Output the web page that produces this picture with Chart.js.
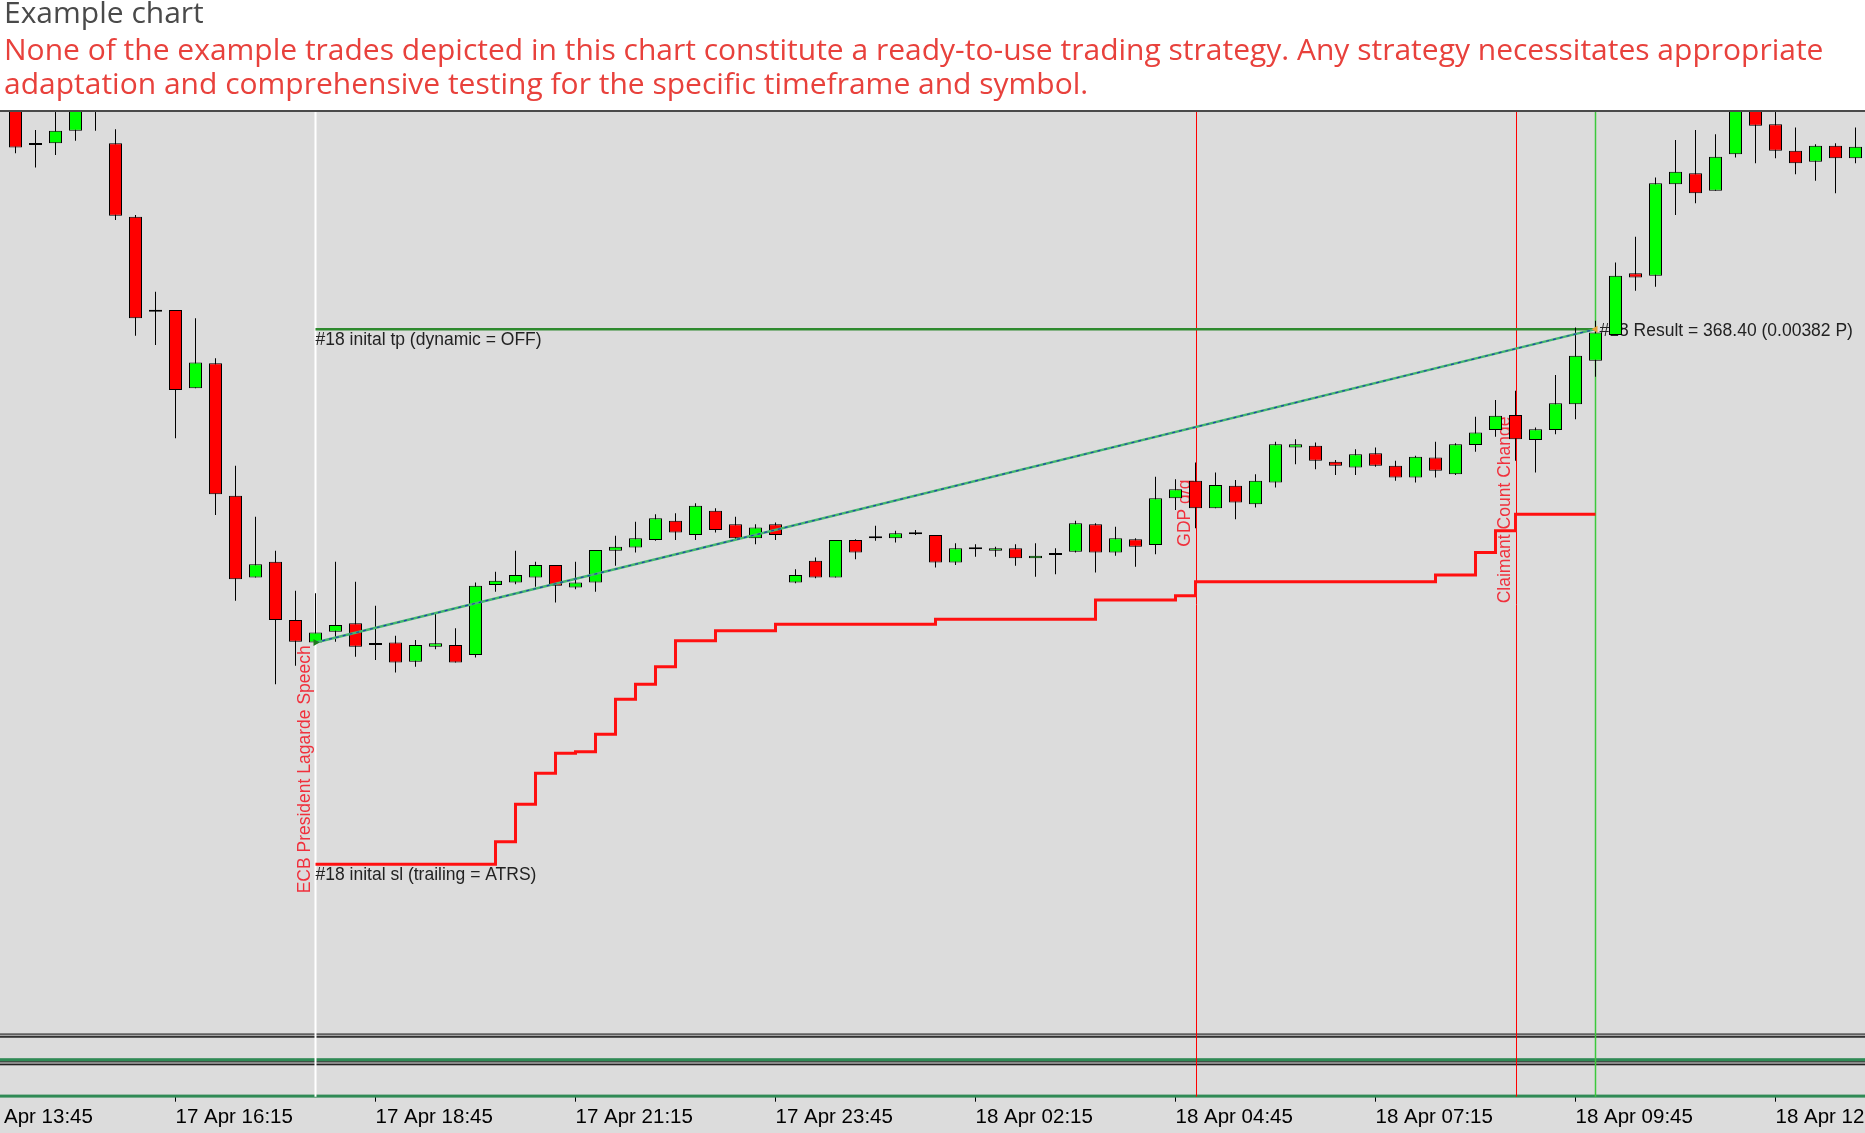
<!DOCTYPE html>
<html><head><meta charset="utf-8">
<script src="https://cdn.jsdelivr.net/npm/chart.js@4.4.1/dist/chart.umd.min.js"></script>
<style>html,body{margin:0;padding:0;background:#fff;}canvas{display:block;}</style>
</head><body>
<canvas id="c" width="1865" height="1133"></canvas>
<script>
// ---------- DATA ----------
const titleText = 'Example chart';
const subtitleLines = [
  'None of the example trades depicted in this chart constitute a ready-to-use trading strategy. Any strategy necessitates appropriate',
  'adaptation and comprehensive testing for the specific timeframe and symbol.'
];
const tickBars = [-2, 8, 18, 28, 38, 48, 58, 68, 78, 88];
const tickLabels = ['17 Apr 13:45','17 Apr 16:15','17 Apr 18:45','17 Apr 21:15','17 Apr 23:45','18 Apr 02:15','18 Apr 04:45','18 Apr 07:15','18 Apr 09:45','18 Apr 12:15'];

const openP = [1.09795,1.09747,1.09749,1.09764,1.09801,1.09749,1.09661,1.09547,1.09549,1.09455,
1.09485,1.09326,1.09228,1.09247,1.09177,1.09150,1.09163,1.09173,1.09147,1.09150,
1.09127,1.09145,1.09147,1.09135,1.09219,1.09222,1.09228,1.09243,1.09216,1.09222,
1.09260,1.09264,1.09273,1.09296,1.09279,1.09308,1.09292,1.09275,1.09292,1.09222,
1.09248,1.09228,1.09273,1.09275,1.09275,1.09280,1.09279,1.09246,1.09262,1.09260,
1.09263,1.09251,1.09255,1.09259,1.09292,1.09258,1.09274,1.09267,1.09323,1.09344,
1.09311,1.09338,1.09316,1.09342,1.09384,1.09386,1.09367,1.09360,1.09377,1.09362,
1.09348,1.09372,1.09352,1.09387,1.09405,1.09423,1.09393,1.09405,1.09436,1.09488,
1.09519,1.09593,1.09590,1.09700,1.09713,1.09692,1.09736,1.09795,1.09772,1.09740,
1.09727,1.09746,1.09731];
const highP = [1.09807,1.09765,1.09791,1.09801,1.09806,1.09766,1.09663,1.09571,1.09549,1.09539,
1.09491,1.09362,1.09301,1.09260,1.09212,1.09209,1.09247,1.09223,1.09194,1.09158,
1.09153,1.09186,1.09167,1.09222,1.09235,1.09260,1.09247,1.09243,1.09247,1.09261,
1.09278,1.09295,1.09304,1.09305,1.09317,1.09311,1.09301,1.09292,1.09294,1.09238,
1.09252,1.09273,1.09274,1.09290,1.09284,1.09285,1.09279,1.09269,1.09268,1.09265,
1.09268,1.09269,1.09263,1.09296,1.09293,1.09289,1.09275,1.09349,1.09346,1.09366,
1.09354,1.09345,1.09352,1.09391,1.09394,1.09390,1.09369,1.09382,1.09384,1.09368,
1.09374,1.09391,1.09389,1.09421,1.09441,1.09452,1.09408,1.09471,1.09528,1.09536,
1.09606,1.09637,1.09708,1.09753,1.09765,1.09760,1.09807,1.09801,1.09791,1.09768,
1.09748,1.09749,1.09768];
const lowP = [1.09737,1.09720,1.09735,1.09752,1.09764,1.09657,1.09518,1.09507,1.09395,1.09455,
1.09303,1.09200,1.09228,1.09100,1.09122,1.09150,1.09151,1.09133,1.09129,1.09114,
1.09121,1.09142,1.09126,1.09132,1.09211,1.09220,1.09217,1.09198,1.09214,1.09211,
1.09242,1.09258,1.09272,1.09273,1.09273,1.09282,1.09274,1.09268,1.09273,1.09221,
1.09227,1.09228,1.09250,1.09272,1.09270,1.09279,1.09240,1.09243,1.09253,1.09253,
1.09242,1.09229,1.09232,1.09258,1.09234,1.09254,1.09241,1.09256,1.09309,1.09287,
1.09311,1.09298,1.09312,1.09336,1.09364,1.09358,1.09351,1.09351,1.09361,1.09344,
1.09342,1.09348,1.09351,1.09379,1.09397,1.09368,1.09354,1.09400,1.09418,1.09469,
1.09519,1.09572,1.09577,1.09663,1.09677,1.09692,1.09732,1.09725,1.09731,1.09712,
1.09704,1.09689,1.09725];
const closeP = [1.09744,1.09747,1.09764,1.09795,1.09794,1.09662,1.09539,1.09547,1.09453,1.09486,
1.09328,1.09226,1.09244,1.09177,1.09151,1.09162,1.09171,1.09145,1.09147,1.09126,
1.09147,1.09149,1.09126,1.09218,1.09224,1.09231,1.09243,1.09218,1.09222,1.09261,
1.09265,1.09275,1.09299,1.09282,1.09314,1.09285,1.09275,1.09288,1.09279,1.09231,
1.09228,1.09273,1.09258,1.09275,1.09281,1.09280,1.09246,1.09263,1.09262,1.09263,
1.09251,1.09254,1.09255,1.09293,1.09258,1.09275,1.09265,1.09323,1.09334,1.09311,
1.09339,1.09318,1.09344,1.09388,1.09388,1.09368,1.09362,1.09376,1.09362,1.09348,
1.09373,1.09356,1.09388,1.09402,1.09422,1.09394,1.09406,1.09437,1.09494,1.09522,
1.09590,1.09588,1.09701,1.09715,1.09689,1.09733,1.09801,1.09770,1.09740,1.09725,
1.09746,1.09731,1.09745];

// trailing stop (per bar, from entry bar 15 to exit bar 79)
const slBars = [15,16,17,18,19,20,21,22,23,24,25,26,27,28,29,30,31,32,33,34,35,36,37,38,39,40,41,42,43,44,45,46,47,
48,49,50,51,52,53,54,55,56,57,58,59,60,61,62,63,64,65,66,67,68,69,70,71,72,73,74,75,76,77,78,79];
const slValues = [1.08884,1.08884,1.08884,1.08884,1.08884,1.08884,1.08884,1.08884,1.08884,
1.08911,1.08956,1.08993,1.09017,1.09019,1.09040,1.09082,1.09100,1.09121,1.09152,1.09152,
1.09164,1.09164,1.09164,1.09172,1.09172,1.09172,1.09172,1.09172,1.09172,1.09172,1.09172,
1.09178,1.09178,1.09178,1.09178,1.09178,1.09178,1.09178,1.09178,
1.09201,1.09201,1.09201,1.09201,1.09206,
1.09223,1.09223,1.09223,1.09223,1.09223,1.09223,1.09223,1.09223,1.09223,1.09223,1.09223,1.09223,
1.09231,1.09231,1.09258,1.09284,1.09304,1.09304,1.09304,1.09304,1.09304];

const entryBar = 15, exitBar = 79;
const entryPrice = 1.09150, exitPrice = 1.09526, tpPrice = 1.09526;
const tpLabel = '#18 inital tp (dynamic = OFF)';
const slLabel = '#18 inital sl (trailing = ATRS)';
const resultLabel = '#18 Result = 368.40 (0.00382 P)';
const events = [
  {bar: 15, text: 'ECB President Lagarde Speech', price: 1.08849},
  {bar: 59, text: 'GDP q/q', price: 1.09265},
  {bar: 75, text: 'Claimant Count Change', price: 1.09197}
];
const sub1Level = 0, sub2Level = 0;

// ---------- CHART ----------
const n = openP.length;
const bodies = [], wicks = [], bodyColors = [];
for (let i = 0; i < n; i++) {
  bodies.push({x: i, y: [openP[i], closeP[i]]});
  wicks.push({x: i, y: [lowP[i], highP[i]]});
  bodyColors.push(closeP[i] > openP[i] ? '#00ff00' : (closeP[i] < openP[i] ? '#ff0000' : '#000000'));
}
const slData = slBars.map((b, k) => ({x: b, y: slValues[k]}));

const decor = {
  id: 'decor',
  beforeDraw(chart) {
    const {ctx, chartArea: a, width, height} = chart;
    ctx.save();
    ctx.fillStyle = '#ffffff'; ctx.fillRect(0, 0, width, height);
    ctx.fillStyle = '#dcdcdc'; ctx.fillRect(0, a.top, width, height - a.top);
    ctx.restore();
  },
  beforeDatasetsDraw(chart) {
    const {ctx, chartArea: a, scales, width} = chart;
    const x = scales.x, y = scales.y, y2 = scales.y2, y3 = scales.y3;
    ctx.save();
    // window separators (double lines)
    const sep = (b) => {
      ctx.fillStyle = '#a4a4a4'; ctx.fillRect(0, b - 0.8, width, 1.3);
      ctx.fillStyle = '#444444'; ctx.fillRect(0, b - 2.2, width, 1.4);
      ctx.fillStyle = '#222222'; ctx.fillRect(0, b + 0.5, width, 1.6);
    };
    sep(y.bottom); sep(y2.bottom);
    // indicator lines in sub windows
    ctx.fillStyle = '#2f8a55';
    ctx.fillRect(0, y2.getPixelForValue(sub1Level) - 1.5, width, 3);
    ctx.fillRect(0, y3.getPixelForValue(sub2Level) - 1.5, width, 3);
    // top border
    ctx.fillStyle = '#4a4a4a'; ctx.fillRect(0, a.top - 2, width, 2);
    // vertical lines
    const vline = (bar, color, w, dx) => {
      const px = x.getPixelForValue(bar) + dx;
      ctx.strokeStyle = color; ctx.lineWidth = w;
      ctx.beginPath(); ctx.moveTo(px, a.top); ctx.lineTo(px, a.bottom); ctx.stroke();
    };
    vline(entryBar, '#ffffff', 2, 0);
    events.forEach(e => { if (e.bar !== entryBar) vline(e.bar, '#ff0000', 1, 1); });
    vline(exitBar, '#3cc83c', 1.5, 0);
    // event texts (vertical)
    ctx.fillStyle = '#f0303c';
    ctx.font = '17.5px "Liberation Sans", Arial, sans-serif';
    ctx.textAlign = 'left'; ctx.textBaseline = 'alphabetic';
    events.forEach(e => {
      ctx.save();
      ctx.translate(x.getPixelForValue(e.bar) - 6, y.getPixelForValue(e.price));
      ctx.rotate(-Math.PI / 2);
      ctx.fillText(e.text, 0, 0);
      ctx.restore();
    });
    // trade texts
    ctx.fillStyle = '#222222';
    ctx.textBaseline = 'top';
    ctx.fillText(tpLabel, x.getPixelForValue(entryBar), y.getPixelForValue(tpPrice) + 2.5);
    ctx.fillText(slLabel, x.getPixelForValue(entryBar), y.getPixelForValue(slValues[0]) + 2.5);
    ctx.textBaseline = 'middle';
    ctx.fillText(resultLabel, x.getPixelForValue(exitBar) + 4, y.getPixelForValue(exitPrice) + 2);
    ctx.restore();
  }
};

new Chart(document.getElementById('c'), {
  type: 'bar',
  data: {
    datasets: [
      {type: 'scatter', data: [{x: entryBar, y: entryPrice}, {x: exitBar, y: exitPrice}], pointStyle: 'triangle',
        rotation: [90, -90], pointRadius: 4, backgroundColor: ['#1e7b1e', '#e8a33a'], borderWidth: 0, order: -3},
      {type: 'line', data: [{x: entryBar, y: entryPrice}, {x: exitBar, y: exitPrice}], borderColor: '#1f3fae',
        borderWidth: 1.2, borderDash: [3, 4], pointRadius: 0, order: -2},
      {type: 'line', data: [{x: entryBar, y: entryPrice}, {x: exitBar, y: exitPrice}], borderColor: '#44b86e',
        borderWidth: 2.4, pointRadius: 0, order: -1},
      {label: 'body', data: bodies, backgroundColor: bodyColors, borderColor: '#000', borderWidth: 1,
        borderSkipped: false, barThickness: 13, minBarLength: 2, grouped: false, inflateAmount: 0, order: 0},
      {label: 'wick', data: wicks, backgroundColor: '#000', borderWidth: 0, barThickness: 1, grouped: false,
        inflateAmount: 0, order: 1},
      {type: 'line', data: [{x: entryBar, y: tpPrice}, {x: exitBar, y: tpPrice}], borderColor: '#2e8a2e',
        borderWidth: 2.5, pointRadius: 0, order: 2},
      {type: 'line', data: slData, stepped: 'before', borderColor: '#ff1010', borderWidth: 3,
        pointRadius: 0, order: 2}
    ]
  },
  options: {
    responsive: false, animation: false, devicePixelRatio: 1,
    layout: {padding: {left: 4, right: 0, top: 0, bottom: 0.7}, autoPadding: false},
    plugins: {
      legend: {display: false}, tooltip: {enabled: false},
      title: {display: true, text: titleText, align: 'start', color: '#4a4a4a',
        font: {family: "'Open Sans', sans-serif", size: 30, weight: 'normal', lineHeight: 0.9833}, padding: {top: 0, bottom: 4.5}},
      subtitle: {display: true, text: subtitleLines, align: 'start', color: '#e8413c',
        font: {family: "'Open Sans', sans-serif", size: 30, weight: 'normal', lineHeight: 1.15}, padding: {top: 0, bottom: 9}}
    },
    scales: {
      x: {
        type: 'linear', min: -0.575, max: 92.475, offset: false, bounds: 'data',
        grid: {display: true, drawOnChartArea: false, drawTicks: true, tickLength: 5, tickColor: '#000', tickWidth: 1, offset: false},
        border: {display: false},
        ticks: {autoSkip: false, maxRotation: 0, minRotation: 0, align: 'start', padding: 3, color: '#000',
          font: {family: "'Liberation Sans', Arial, sans-serif", size: 20.5},
          callback: (v) => { const k = tickBars.indexOf(v); return k >= 0 ? tickLabels[k] : ''; }},
        afterBuildTicks: (s) => { s.ticks = tickBars.map(v => ({value: v})); },
        afterFit: (s) => { s.paddingLeft = 0; s.paddingRight = 0; }
      },
      y: {type: 'linear', position: 'right', display: false, min: 1.086783, max: 1.097866, stack: 'win', stackWeight: 923.6, grid: {display: false}},
      y2: {type: 'linear', position: 'right', display: false, min: -0.127, max: 0.873, stack: 'win', stackWeight: 27.6, grid: {display: false}},
      y3: {type: 'linear', position: 'right', display: false, min: -0.018, max: 0.982, stack: 'win', stackWeight: 33.5, grid: {display: false}}
    }
  },
  plugins: [decor]
});
</script>
</body></html>
